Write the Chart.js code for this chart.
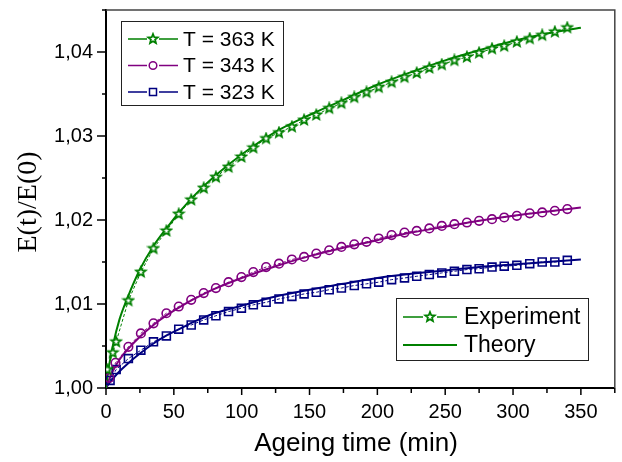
<!DOCTYPE html>
<html><head><meta charset="utf-8">
<script src="https://cdn.jsdelivr.net/npm/chart.js@4/dist/chart.umd.min.js"></script>
<style>html,body{margin:0;padding:0;background:#fff}</style>
</head><body>
<canvas id="c" width="622" height="462" style="display:block;width:622px;height:462px"></canvas>
<script>
// ---------------- data ----------------
const seriesNames = ['T = 363 K', 'T = 343 K', 'T = 323 K'];
const legend2Names = ['Experiment', 'Theory'];
const xTitle = 'Ageing time (min)';
const yTitle = 'E(t)/E(0)';
const xMajorTicks = [0, 50, 100, 150, 200, 250, 300, 350];
const yMajorTicks = [1.00, 1.01, 1.02, 1.03, 1.04];

const commonTimes = [16.5, 25.7, 35, 44.5, 53.6, 62.8, 72, 81, 90.3, 99.8,
  108.6, 118, 127.5, 137, 146, 155, 164.5, 173.5, 183, 192,
  201, 210.5, 220, 229, 238.3, 247.5, 256.8, 266, 275, 284.5,
  293.5, 302.8, 312.3, 321.5, 330.8, 340];

const t363 = [1, 5, 7.5, ...commonTimes];
const e363 = [1.0022, 1.0042, 1.0055,
  1.0104, 1.0138, 1.0166, 1.0187, 1.0207, 1.0224, 1.0238, 1.0251, 1.0263, 1.0275,
  1.0286, 1.0297, 1.0304, 1.0311, 1.0319, 1.0325, 1.0333, 1.0339, 1.0346, 1.0352,
  1.0358, 1.0364, 1.0370, 1.0375, 1.0381, 1.0385, 1.0390, 1.0394, 1.0399, 1.0404,
  1.0407, 1.0412, 1.0416, 1.0420, 1.0424, 1.0429];

const t343 = [2.5, 7, ...commonTimes];
const e343 = [1.0012, 1.0030,
  1.0049, 1.0065, 1.0077, 1.0089, 1.0097, 1.0105, 1.0113, 1.0119, 1.0126, 1.0132,
  1.0138, 1.0144, 1.0148, 1.0153, 1.0156, 1.0160, 1.0164, 1.0168, 1.0171, 1.0174,
  1.0178, 1.0182, 1.0185, 1.0187, 1.0190, 1.0193, 1.0195, 1.0197, 1.0199, 1.0201,
  1.0203, 1.0205, 1.0208, 1.0209, 1.0211, 1.0213];

const t323 = [3, 7.5, ...commonTimes];
const e323 = [1.0009, 1.0022,
  1.0035, 1.0045, 1.0055, 1.0062, 1.0070, 1.0075, 1.0081, 1.0086, 1.0091, 1.0095,
  1.0099, 1.0102, 1.0106, 1.0109, 1.0112, 1.0114, 1.0117, 1.0119, 1.0122, 1.0124,
  1.0126, 1.0129, 1.0131, 1.0133, 1.0135, 1.0137, 1.0139, 1.0141, 1.0142, 1.0144,
  1.0145, 1.0146, 1.0148, 1.0150, 1.0150, 1.0152];

const theoryTimes = [0, 2, 5, 10, 16, 25, 35, 45, 55, 65, 80, 100, 125, 150, 175, 200, 225, 250, 275, 300, 325, 350];
const th363 = [1.0, 1.0024, 1.0050, 1.0082, 1.0108, 1.0141, 1.0169, 1.0191, 1.0211, 1.0229, 1.0252, 1.0278, 1.0305, 1.0325, 1.0343, 1.0361, 1.0376, 1.0390, 1.0402, 1.0413, 1.0422, 1.0429];
const th343 = [1.0, 1.0009, 1.0020, 1.0034, 1.0046, 1.0061, 1.0075, 1.0087, 1.0097, 1.0106, 1.0118, 1.0131, 1.0145, 1.0157, 1.0167, 1.0176, 1.0185, 1.0192, 1.0199, 1.0205, 1.0210, 1.0215];
const th323 = [1.0, 1.0005, 1.0011, 1.0020, 1.0029, 1.0041, 1.0053, 1.0063, 1.0071, 1.0079, 1.0089, 1.0098, 1.0109, 1.0117, 1.0124, 1.0131, 1.0136, 1.0140, 1.0144, 1.0147, 1.0150, 1.0153];

// ---------------- styles ----------------
const colors = ['#008000', '#800080', '#000080'];
const SANS = '"Liberation Sans", Arial, sans-serif';
const SERIF = '"Liberation Serif", "Times New Roman", serif';

function makeStar(color) {
  const c = document.createElement('canvas');
  c.width = 14; c.height = 14;
  const g = c.getContext('2d');
  g.beginPath();
  for (let i = 0; i < 10; i++) {
    const r = i % 2 ? 2.2 : 5.0;
    const a = -Math.PI / 2 + i * Math.PI / 5;
    g.lineTo(7 + r * Math.cos(a), 7 + r * Math.sin(a));
  }
  g.closePath();
  g.fillStyle = '#fff'; g.fill();
  g.lineWidth = 1.8; g.strokeStyle = color; g.lineJoin = 'miter'; g.stroke();
  return c;
}
const starImg = makeStar(colors[0]);

const zip = (xs, ys) => xs.map((x, i) => ({ x: x, y: ys[i] }));

function expSet(label, xs, ys, color, style, radius) {
  return {
    label: label, data: zip(xs, ys), showLine: true,
    borderColor: color, backgroundColor: 'rgba(0,0,0,0)',
    borderWidth: 1, borderDash: [3, 2],
    pointStyle: style, pointRadius: radius, pointBorderWidth: 1.6,
    pointBorderColor: color, pointBackgroundColor: 'rgba(255,255,255,0)',
    order: 0
  };
}
function theorySet(label, xs, ys, color) {
  return {
    label: label, data: zip(xs, ys), showLine: true,
    borderColor: color, borderWidth: 2, pointRadius: 0,
    cubicInterpolationMode: 'monotone', order: 1
  };
}

const isMajor = (v, list) => list.some(m => Math.abs(m - v) < 1e-7);

const decorPlugin = {
  id: 'decor',
  afterDraw(chart) {
    const { ctx, scales: { x, y }, chartArea: a } = chart;
    ctx.save();
    // top / right frame
    ctx.strokeStyle = '#444'; ctx.lineWidth = 1.5;
    ctx.beginPath(); ctx.moveTo(a.left, a.top); ctx.lineTo(a.right, a.top); ctx.lineTo(a.right, a.bottom); ctx.stroke();
    // ticks
    ctx.strokeStyle = '#000'; ctx.lineWidth = 1.5;
    x.ticks.forEach(t => {
      const px = x.getPixelForValue(t.value);
      const len = isMajor(t.value, xMajorTicks) ? 7 : 5;
      ctx.beginPath(); ctx.moveTo(px, a.bottom); ctx.lineTo(px, a.bottom + len); ctx.stroke();
    });
    y.ticks.forEach(t => {
      const py = y.getPixelForValue(t.value);
      const len = isMajor(t.value, yMajorTicks) ? 9 : 4;
      ctx.beginPath(); ctx.moveTo(a.left, py); ctx.lineTo(a.left - len, py); ctx.stroke();
    });
    // axis titles
    ctx.fillStyle = '#000';
    ctx.font = '26px ' + SANS; ctx.textAlign = 'center'; ctx.textBaseline = 'alphabetic';
    ctx.fillText(xTitle, 356, 451);
    ctx.save();
    ctx.translate(36, 202); ctx.rotate(-Math.PI / 2);
    ctx.font = '28px ' + SERIF; ctx.textAlign = 'center'; ctx.textBaseline = 'alphabetic';
    ctx.fillText(yTitle, 0, 0);
    ctx.restore();

    // legend 1
    ctx.fillStyle = '#fff'; ctx.fillRect(121, 21, 162, 84);
    ctx.strokeStyle = '#222'; ctx.lineWidth = 1; ctx.strokeRect(121.5, 21.5, 162, 84);
    const rows = [39, 65.5, 92];
    ctx.font = '21px ' + SANS; ctx.textAlign = 'left'; ctx.textBaseline = 'middle';
    rows.forEach((ry, i) => {
      const c = colors[i];
      ctx.strokeStyle = c; ctx.lineWidth = 1.5;
      ctx.beginPath(); ctx.moveTo(128, ry); ctx.lineTo(147, ry); ctx.moveTo(159, ry); ctx.lineTo(178, ry); ctx.stroke();
      drawMarker(ctx, i, 153, ry);
      ctx.fillStyle = '#000';
      ctx.fillText(seriesNames[i], 183, ry + 1);
    });

    // legend 2
    ctx.fillStyle = '#fff'; ctx.fillRect(396, 298, 192, 62);
    ctx.strokeStyle = '#222'; ctx.lineWidth = 1; ctx.strokeRect(396.5, 298.5, 192, 62);
    ctx.font = '23px ' + SANS; ctx.textAlign = 'left'; ctx.textBaseline = 'middle';
    ctx.strokeStyle = colors[0]; ctx.lineWidth = 1.5;
    ctx.beginPath(); ctx.moveTo(403, 317); ctx.lineTo(423, 317); ctx.moveTo(437, 317); ctx.lineTo(457, 317); ctx.stroke();
    drawMarker(ctx, 0, 430, 317);
    ctx.strokeStyle = colors[0]; ctx.lineWidth = 2;
    ctx.beginPath(); ctx.moveTo(403, 345); ctx.lineTo(457, 345); ctx.stroke();
    ctx.fillStyle = '#000';
    ctx.fillText(legend2Names[0], 464, 318);
    ctx.fillText(legend2Names[1], 464, 346);
    ctx.restore();
  }
};

function drawMarker(ctx, i, cx, cy) {
  ctx.save();
  ctx.strokeStyle = colors[i]; ctx.lineWidth = 1.5;
  if (i === 0) {
    ctx.drawImage(starImg, cx - 7, cy - 7);
  } else if (i === 1) {
    ctx.beginPath(); ctx.arc(cx, cy, 3.8, 0, Math.PI * 2); ctx.stroke();
  } else {
    ctx.strokeRect(cx - 3.5, cy - 3.5, 7, 7);
  }
  ctx.restore();
}

new Chart(document.getElementById('c'), {
  type: 'scatter',
  data: {
    datasets: [
      expSet(seriesNames[0], t363, e363, colors[0], starImg, 5),
      expSet(seriesNames[1], t343, e343, colors[1], 'circle', 4.3),
      expSet(seriesNames[2], t323, e323, colors[2], 'rect', 5.6),
      theorySet(seriesNames[0] + ' theory', theoryTimes, th363, colors[0]),
      theorySet(seriesNames[1] + ' theory', theoryTimes, th343, colors[1]),
      theorySet(seriesNames[2] + ' theory', theoryTimes, th323, colors[2])
    ]
  },
  options: {
    responsive: false, animation: false,
    layout: { padding: { left: 0, right: 4, top: 10, bottom: 0 } },
    plugins: { legend: { display: false }, tooltip: { enabled: false } },
    scales: {
      x: {
        type: 'linear', min: 0, max: 375,
        ticks: {
          stepSize: 25, padding: 12, color: '#000', maxRotation: 0, autoSkip: false,
          font: { family: SANS, size: 20 },
          callback: v => isMajor(v, xMajorTicks) ? String(v) : ''
        },
        grid: { drawOnChartArea: false, drawTicks: false },
        border: { display: true, color: '#000', width: 2 },
        afterFit: s => { s.height = 74; s.paddingLeft = 0; s.paddingRight = 0; }
      },
      y: {
        type: 'linear', min: 1.0, max: 1.045,
        ticks: {
          stepSize: 0.005, padding: 13, color: '#000', autoSkip: false,
          font: { family: SANS, size: 20 },
          callback: v => isMajor(v, yMajorTicks) ? v.toFixed(2).replace('.', ',') : ''
        },
        grid: { drawOnChartArea: false, drawTicks: false },
        border: { display: true, color: '#000', width: 2 },
        afterFit: s => { s.width = 106; s.paddingTop = 0; s.paddingBottom = 0; }
      }
    }
  },
  plugins: [decorPlugin]
});
</script>
</body></html>
